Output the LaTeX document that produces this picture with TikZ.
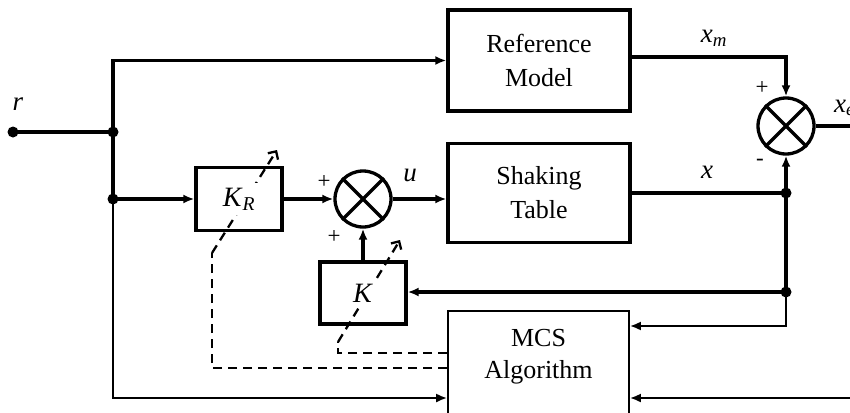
\documentclass[tikz,border=0pt]{standalone}
\usepackage{fontspec}
\setmainfont{Liberation Serif}
\usetikzlibrary{arrows.meta}
\begin{document}
\begin{tikzpicture}[x=1pt,y=-1pt,
  thk/.style={line width=3.3pt},
  thn/.style={line width=2.2pt},
  arr/.style={-{Latex[length=11pt,width=9pt]}},
  blk/.style={draw, line width=3.3pt, inner sep=0pt, align=center,
    font=\fontsize{26}{34}\selectfont},
  txt/.style={inner sep=5pt, align=center, font=\fontsize{28}{34}\selectfont, fill=white},
  sumnode/.style={circle, draw, line width=3.3pt, minimum size=56pt, inner sep=0pt},
  lbl/.style={font=\fontsize{27}{28}\selectfont\itshape, inner sep=0pt},
  sgn/.style={font=\fontsize{23}{24}\selectfont, inner sep=0pt},
  dashln/.style={line width=2.3pt, dash pattern=on 9pt off 6pt},
  adj/.style={dashln, -{Straight Barb[length=6pt,width=12pt]}},
  dot/.style={circle, fill, inner sep=0pt, minimum size=11pt}]
\useasboundingbox (0,0) rectangle (850,412);
\clip (0,0) rectangle (850,412);

% blocks
\node[blk, minimum width=182pt, minimum height=101pt] (ref) at (539,60.5) {Reference\\Model};
\node[blk, minimum width=182pt, minimum height=99pt] (st) at (539,193) {Shaking\\Table};
\node[blk, minimum width=86pt, minimum height=63pt] (kr) at (239,199) {};
\node[blk, minimum width=86pt, minimum height=62pt] (k) at (363,293) {};
\node[draw, line width=1.6pt, minimum width=181pt, minimum height=130pt, anchor=north, inner sep=0pt] (mcs) at (538.5,310) {};
\node[align=center, font=\fontsize{26}{32}\selectfont, inner sep=0pt] (mcstext) at (538.5,357) {MCS\\Algorithm};

% summing junctions
\node[sumnode] (s1) at (363,199) {};
\draw[thk] (s1.north west) -- (s1.south east) (s1.north east) -- (s1.south west);
\node[sumnode] (s2) at (786,126) {};
\draw[thk] (s2.north west) -- (s2.south east) (s2.north east) -- (s2.south west);

% coordinates
\coordinate (rin) at (13,132);
\coordinate (j1) at (113,132);
\coordinate (j2) at (113,199);
\coordinate (j3) at (786,193);
\coordinate (j4) at (786,292);
\coordinate (bl) at (113,398);
\coordinate (rend) at (860,398);
\coordinate (m1) at (786,326);
\coordinate (xmy) at (700,57);
\coordinate (xe) at (860,126);
\coordinate (c1) at (212,368);
\coordinate (d1a) at (212,253);
\coordinate (d1b) at (277,150);
\coordinate (c2) at (338,353);
\coordinate (d2a) at (338,342);
\coordinate (d2b) at (400,240);

% thick connectors
\draw[thk] (rin) -- (j1);
\draw[thk, arr] (j1) |- (ref.west);
\draw[thk] (j1) -- (j2);
\draw[thk, arr] (j2) -- (kr.west);
\draw[thk, arr] (kr.east) -- (s1.west);
\draw[thk, arr] (s1.east) -- (s1.east -| st.west);
\draw[thk, arr] (k.north) -- (s1.south);
\draw[thk, arr] (ref.east |- xmy) -| (s2.north);
\draw[thk] (st.east |- j3) -- (j3);
\draw[thk, arr] (j3) -- (s2.south);
\draw[thk] (j3) -- (j4);
\draw[thk, arr] (j4) -- (j4 -| k.east);
\draw[thk] (s2.east) -- (xe);

% thin connectors to MCS
\draw[thn, arr] (j2) |- (mcs.west |- bl);
\draw[thn, arr] (j4) |- (mcs.east |- m1);
\draw[thn, arr] (rend) -- (mcs.east |- rend);

% dashed adaptation lines
\draw[dashln] (mcs.west |- c1) -- (c1) -- (d1a);
\draw[adj] (d1a) -- (d1b);
\draw[dashln] (mcs.west |- c2) -- (c2) -- (d2a);
\draw[adj] (d2a) -- (d2b);

% gain texts over the dashed lines
\node[txt] (krtext) at (kr.center) {\textit{K}\textsubscript{\textit{R}}};
\node[txt] (ktext) at (k.center) {\textit{K}};

% dots
\node[dot] (dr) at (rin) {};
\node[dot] (dj1) at (j1) {};
\node[dot] (dj2) at (j2) {};
\node[dot] (dj3) at (j3) {};
\node[dot] (dj4) at (j4) {};

% labels
\node[lbl] (lr) at (18,104) {r};
\node[lbl] (lxm) at (714,38) {x\textsubscript{m}};
\node[lbl] (lx) at (707,172) {x};
\node[lbl] (lu) at (410,175) {u};
\node[lbl, anchor=west] (lxe) at (834,108) {x\textsubscript{e}};
\node[sgn] (p1) at (324,182) {+};
\node[sgn] (p2) at (334,237) {+};
\node[sgn] (p3) at (762,88) {+};
\node[sgn] (m3) at (760,162) {-};
\end{tikzpicture}
\end{document}
